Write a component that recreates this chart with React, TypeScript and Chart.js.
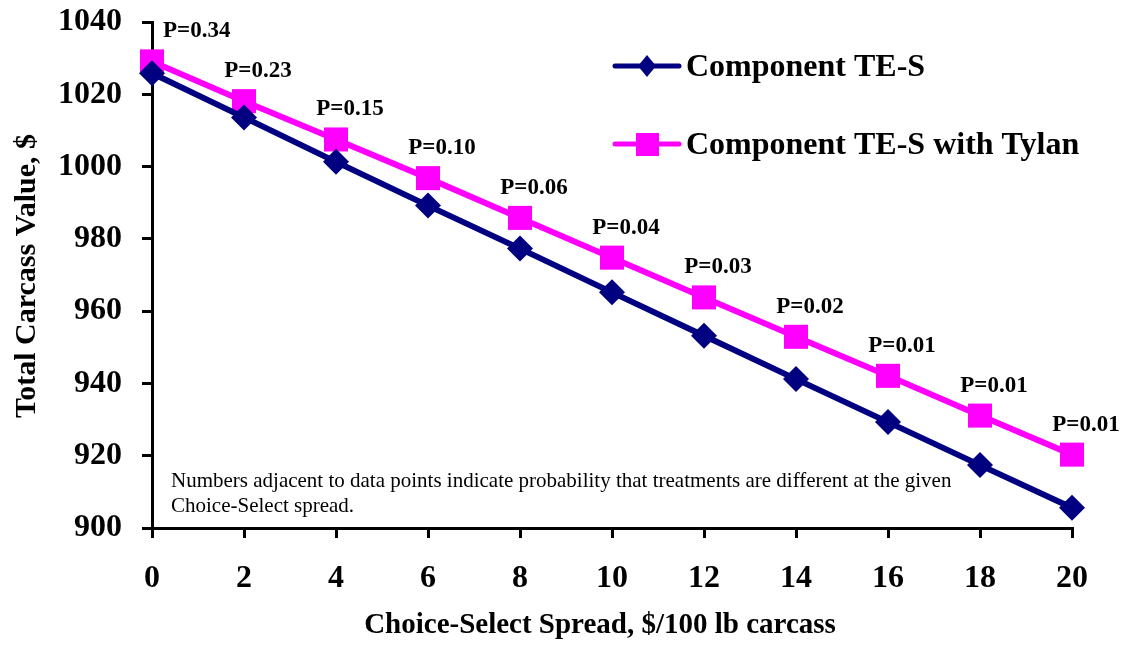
import React, { useEffect, useRef } from "react";
import { Chart, registerables } from "chart.js";

Chart.register(...registerables);

const spreads = [0, 2, 4, 6, 8, 10, 12, 14, 16, 18, 20];
const teS = [1025.8, 1013.6, 1001.3, 989.2, 977.3, 965.2, 953.2, 941.2, 929.3, 917.4, 905.6];
const teSTylan = [1029.1, 1018.1, 1007.5, 996.8, 985.8, 974.8, 963.8, 952.9, 942.1, 931.1, 920.3];
const pLabels = ["P=0.34", "P=0.23", "P=0.15", "P=0.10", "P=0.06", "P=0.04", "P=0.03", "P=0.02", "P=0.01", "P=0.01", "P=0.01"];
const seriesNames = ["Component TE-S", "Component TE-S with Tylan"];
const xTitle = "Choice-Select Spread, $/100 lb carcass";
const yTitle = "Total Carcass Value, $";
const noteLines = [
  "Numbers adjacent to data points indicate probability that treatments are different at the given",
  "Choice-Select spread.",
];

const NAVY = "#000080";
const MAGENTA = "#FF00FF";
const FONT = "'Liberation Serif', 'Times New Roman', serif";

const overlay = {
  id: "overlay",
  afterDraw(chart: any) {
    const ctx = chart.ctx;
    ctx.save();
    ctx.fillStyle = "#000";
    // P labels above Tylan points
    const meta = chart.getDatasetMeta(1);
    ctx.font = `bold 23px ${FONT}`;
    ctx.textBaseline = "middle";
    meta.data.forEach((pt: any, i: number) => {
      if (i === 0) {
        ctx.textAlign = "left";
        ctx.fillText(pLabels[i], pt.x + 11, pt.y - 30);
      } else {
        ctx.textAlign = "center";
        ctx.fillText(pLabels[i], pt.x + 14, pt.y - 30);
      }
    });
    // note
    ctx.font = `21px ${FONT}`;
    ctx.textAlign = "left";
    ctx.fillText(noteLines[0], 171, 481);
    ctx.fillText(noteLines[1], 171, 506);
    // axis titles
    ctx.font = `bold 29px ${FONT}`;
    ctx.textAlign = "center";
    ctx.fillText(xTitle, 600, 626);
    ctx.save();
    ctx.font = `bold 30px ${FONT}`;
    ctx.translate(27, 276);
    ctx.rotate(-Math.PI / 2);
    ctx.fillText(yTitle, 0, 0);
    ctx.restore();
    // legend
    const items = [
      { y: 66, color: NAVY, shape: "diamond" },
      { y: 144, color: MAGENTA, shape: "square" },
    ];
    items.forEach((it, i) => {
      ctx.strokeStyle = it.color;
      ctx.fillStyle = it.color;
      ctx.lineWidth = 5;
      ctx.lineCap = "round";
      ctx.beginPath();
      ctx.moveTo(615, it.y);
      ctx.lineTo(679, it.y);
      ctx.stroke();
      ctx.beginPath();
      if (it.shape === "diamond") {
        ctx.moveTo(647, it.y - 11);
        ctx.lineTo(656, it.y);
        ctx.lineTo(647, it.y + 11);
        ctx.lineTo(638, it.y);
        ctx.closePath();
      } else {
        ctx.rect(636, it.y - 11, 23, 23);
      }
      ctx.fill();
      ctx.fillStyle = "#000";
      ctx.font = `bold 32px ${FONT}`;
      ctx.textAlign = "left";
      ctx.fillText(seriesNames[i], 686, it.y + 2);
    });
    ctx.restore();
  },
};

export default function App() {
  const ref = useRef<HTMLCanvasElement>(null);
  useEffect(() => {
    const chart = new Chart(ref.current!, {
      type: "line",
      data: {
        datasets: [
          {
            label: seriesNames[0],
            data: spreads.map((x, i) => ({ x, y: teS[i] })),
            borderColor: NAVY,
            backgroundColor: NAVY,
            borderWidth: 6,
            pointStyle: "rectRot",
            pointRadius: 13,
            pointBorderWidth: 0,
            pointBackgroundColor: NAVY,
            clip: false,
          },
          {
            label: seriesNames[1],
            data: spreads.map((x, i) => ({ x, y: teSTylan[i] })),
            borderColor: MAGENTA,
            backgroundColor: MAGENTA,
            borderWidth: 6,
            pointStyle: "rect",
            pointRadius: 17,
            pointBorderWidth: 0,
            pointBackgroundColor: MAGENTA,
            clip: false,
          },
        ],
      },
      options: {
        animation: false,
        responsive: false,
        layout: { padding: { top: 22, right: 50, left: 0, bottom: 0 } },
        plugins: { legend: { display: false }, tooltip: { enabled: false } },
        scales: {
          x: {
            type: "linear",
            min: 0,
            max: 20,
            ticks: {
              stepSize: 2,
              color: "#000",
              font: { family: FONT, size: 32, weight: "bold" },
              padding: 22,
              maxRotation: 0,
            },
            grid: { drawOnChartArea: false, drawTicks: true, tickLength: 10, color: "#000", lineWidth: 3 },
            border: { color: "#000", width: 3 },
            afterFit: (s: any) => {
              s.height = 125;
              s.paddingLeft = 0;
              s.paddingRight = 0;
            },
          },
          y: {
            min: 900,
            max: 1040,
            ticks: {
              stepSize: 20,
              color: "#000",
              font: { family: FONT, size: 32, weight: "bold" },
              padding: 20,
              callback: (v: any) => String(v),
            },
            grid: { drawOnChartArea: false, drawTicks: true, tickLength: 10, color: "#000", lineWidth: 3 },
            border: { color: "#000", width: 3 },
            afterFit: (s: any) => {
              s.width = 152;
              s.paddingTop = 0;
              s.paddingBottom = 0;
            },
          },
        },
      } as any,
      plugins: [overlay],
    });
    return () => chart.destroy();
  }, []);
  return (
    <div style={{ position: "fixed", left: 0, top: 0, width: 1122, height: 653, background: "#fff" }}>
      <canvas ref={ref} width={1122} height={653} style={{ width: 1122, height: 653 }} />
    </div>
  );
}
